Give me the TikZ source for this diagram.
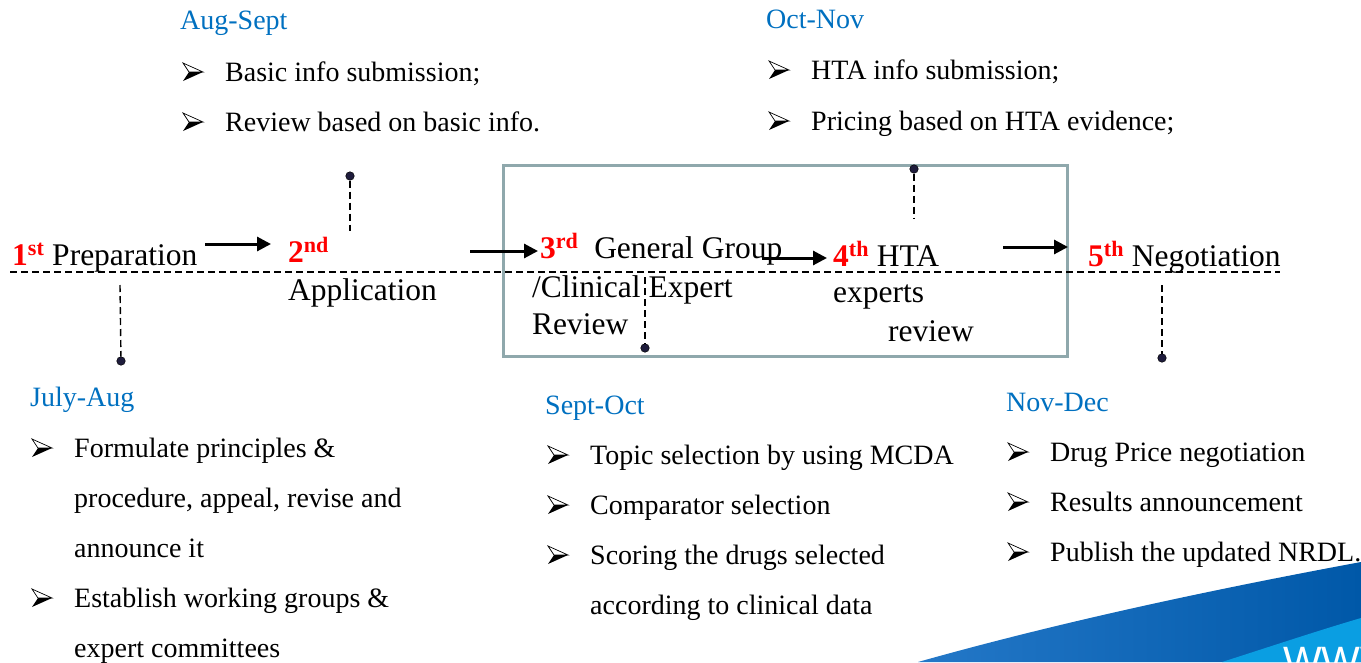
\documentclass[tikz,border=0pt]{standalone}
\usepackage{fontspec}
\setmainfont{Liberation Serif}
\newfontfamily\swooshfont{Liberation Sans}
\usetikzlibrary{arrows.meta}
\definecolor{monthblue}{RGB}{0,112,192}
\definecolor{boxgrey}{RGB}{143,168,172}
\definecolor{dotnavy}{RGB}{30,28,60}
\definecolor{swdark}{RGB}{0,88,168}
\definecolor{swmid}{RGB}{36,120,200}
\definecolor{swlight}{RGB}{10,158,226}
\newcommand{\ordnum}[2]{{\color{red}\bfseries #1\textsuperscript{#2}}}
\tikzset{
  stage/.style={anchor=base west, inner sep=0pt, font=\fontsize{31.5}{36}\selectfont},
  month/.style={anchor=base west, inner sep=0pt, text=monthblue, font=\fontsize{28}{32}\selectfont},
  item/.style={anchor=base west, inner sep=0pt, font=\fontsize{28}{32}\selectfont},
  timeline/.style={dashed, dash pattern=on 7pt off 4pt, line width=1.5pt},
  tick/.style={dashed, dash pattern=on 7pt off 4pt, line width=1.4pt},
  flow/.style={line width=3pt, -{Triangle[length=14pt,width=14pt]}},
  pin/.style={circle, fill=dotnavy, draw=black, line width=0.5pt, minimum size=8.5pt, inner sep=0pt},
  bul/.pic={
    \draw[line width=0.7pt, line join=miter] (0,-9) -- (20,0) -- (6,0) -- cycle;
    \fill (6,0) -- (20,0) -- (0,9) -- cycle;
  }
}
\begin{document}
\begin{tikzpicture}[x=1pt, y=-1pt]
\useasboundingbox (0,0) rectangle (1361,662);

% corner swoosh
\shade[left color=swmid, right color=swdark]
  (918,662) .. controls (1060,622) and (1210,590) .. (1361,562) -- (1361,662) -- cycle;
\fill[swlight]
  (1222,662) .. controls (1275,645) and (1320,630) .. (1361,618) -- (1361,662) -- cycle;
\node[anchor=base west, inner sep=0pt, text=white, font=\swooshfont\fontsize{41}{44}\selectfont] (web) at (1283,675) {WWW};

% grouping frame around the review stages
\draw[boxgrey, line width=3pt] (503,165) rectangle (1067,356);

% time axis
\coordinate (axL) at (10,272);
\coordinate (axR) at (1280,272);
\draw[timeline] (axL) -- (axR);

% stage labels
\node[stage] (s1) at (12,265) {\ordnum{1}{st} Preparation};
\node[stage] (s2) at (288,262) {\ordnum{2}{nd}};
\node[stage] (s2b) at (288,300) {Application};
\node[stage] (s3) at (540,258) {\ordnum{3}{rd}\ \ General Group};
\node[stage] (s3b) at (532,297) {/Clinical Expert};
\node[stage] (s3c) at (532,334) {Review};
\node[stage] (s4) at (833,266) {\ordnum{4}{th} HTA};
\node[stage] (s4b) at (833,302) {experts};
\node[stage] (s4c) at (888,341) {review};
\node[stage] (s5) at (1088,266) {\ordnum{5}{th} Negotiation};

% flow arrows between stages
\coordinate (a1s) at (205,244); \coordinate (a1e) at (271,244);
\coordinate (a2s) at (470,251); \coordinate (a2e) at (538,251);
\coordinate (a3s) at (762,258); \coordinate (a3e) at (827,258);
\coordinate (a4s) at (1003,247); \coordinate (a4e) at (1068,247);
\draw[flow] (a1s) -- (a1e);
\draw[flow] (a2s) -- (a2e);
\draw[flow] (a3s) -- (a3e);
\draw[flow] (a4s) -- (a4e);

% pins from the axis to the period notes
\node[pin] (p1) at (121,361) {};
\coordinate (t1) at (120,285);
\draw[tick] (t1) -- (p1);
\node[pin] (p2) at (350,176) {};
\coordinate (t2) at (350,231);
\draw[tick] (p2) -- (t2);
\node[pin] (p3) at (645,348) {};
\coordinate (t3) at (645,277);
\draw[tick] (t3) -- (p3);
\node[pin] (p4) at (914,169) {};
\coordinate (t4) at (914,219);
\draw[tick] (p4) -- (t4);
\node[pin] (p5) at (1162,358) {};
\coordinate (t5) at (1162,285);
\draw[tick] (t5) -- (p5);

% Aug-Sept
\node[month] (m2) at (180,29) {Aug-Sept};
\pic at (183,72) {bul};
\node[item] (m2i1) at (225,81) {Basic info submission;};
\pic at (183,122) {bul};
\node[item] (m2i2) at (225,131) {Review based on basic info.};

% Oct-Nov
\node[month] (m4) at (766,28) {Oct-Nov};
\pic at (769,70) {bul};
\node[item] (m4i1) at (811,79) {HTA info submission;};
\pic at (769,121) {bul};
\node[item] (m4i2) at (811,130) {Pricing based on HTA evidence;};

% July-Aug
\node[month] (m1) at (30,406) {July-Aug};
\pic at (32,448) {bul};
\node[item] (m1i1) at (74,457) {Formulate principles \&};
\node[item] (m1i1b) at (74,507) {procedure, appeal, revise and};
\node[item] (m1i1c) at (74,557) {announce it};
\pic at (32,598) {bul};
\node[item] (m1i2) at (74,607) {Establish working groups \&};
\node[item] (m1i2b) at (74,657) {expert committees};

% Sept-Oct
\node[month] (m3) at (545,414) {Sept-Oct};
\pic at (548,455) {bul};
\node[item] (m3i1) at (590,464) {Topic selection by using MCDA};
\pic at (548,505) {bul};
\node[item] (m3i2) at (590,514) {Comparator selection};
\pic at (548,555) {bul};
\node[item] (m3i3) at (590,564) {Scoring the drugs selected};
\node[item] (m3i3b) at (590,614) {according to clinical data};

% Nov-Dec
\node[month] (m5) at (1006,411) {Nov-Dec};
\pic at (1008,452) {bul};
\node[item] (m5i1) at (1050,461) {Drug Price negotiation};
\pic at (1008,502) {bul};
\node[item] (m5i2) at (1050,511) {Results announcement};
\pic at (1008,552) {bul};
\node[item] (m5i3) at (1050,561) {Publish the updated NRDL.};
\end{tikzpicture}
\end{document}
